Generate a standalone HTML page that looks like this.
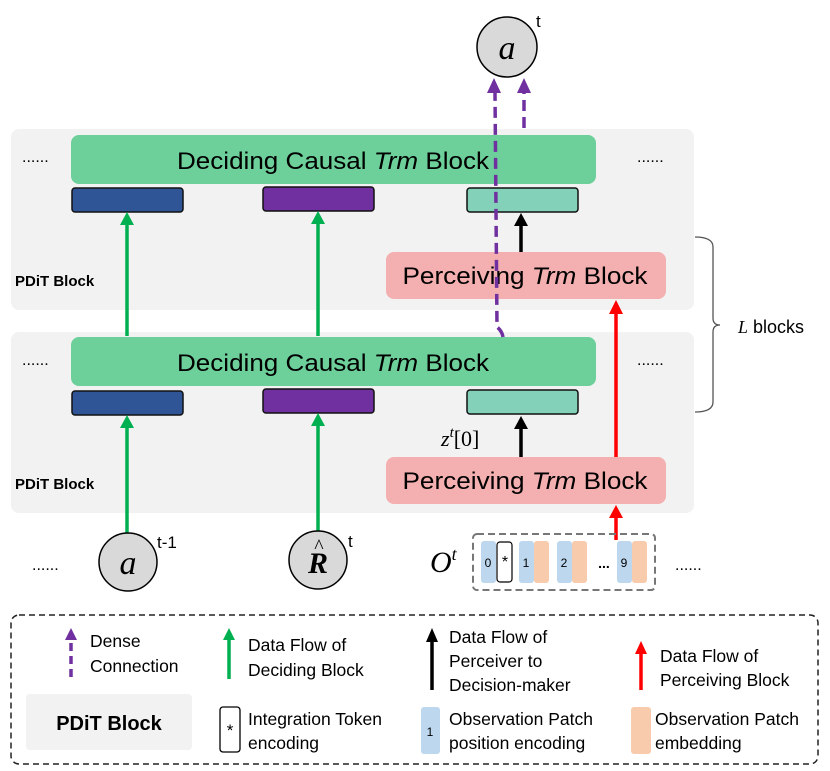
<!DOCTYPE html>
<html><head><style>
body{margin:0;background:#fff}
svg{display:block}
text{font-family:"Liberation Sans",sans-serif}
.s{font-family:"Liberation Serif",serif}
.lg{font-size:17.5px}
</style></head><body>
<svg width="830" height="771" viewBox="0 0 830 771" xmlns="http://www.w3.org/2000/svg">
<rect x="11" y="129" width="683" height="181" rx="8" fill="#f2f2f2"/>
<rect x="11" y="332" width="683" height="181" rx="8" fill="#f2f2f2"/>
<rect x="71" y="135" width="525" height="49" rx="8" fill="#6dcf9a"/>
<text x="333" y="169" font-size="24" text-anchor="middle" textLength="312" lengthAdjust="spacingAndGlyphs">Deciding Causal <tspan font-style="italic">Trm</tspan> Block</text>
<rect x="72" y="188" width="111" height="24" rx="3" fill="#2f5597" stroke="#111" stroke-width="1.5"/>
<rect x="263" y="187" width="111" height="24" rx="3" fill="#7030a0" stroke="#111" stroke-width="1.5"/>
<rect x="467" y="188" width="111" height="24" rx="3" fill="#84d1b9" stroke="#111" stroke-width="1.5"/>
<rect x="386" y="252" width="280" height="47" rx="8" fill="#f4b0b0"/>
<text x="525" y="284" font-size="24" text-anchor="middle" textLength="245" lengthAdjust="spacingAndGlyphs">Perceiving <tspan font-style="italic">Trm</tspan> Block</text>
<rect x="71" y="337" width="525" height="49" rx="8" fill="#6dcf9a"/>
<text x="333" y="371" font-size="24" text-anchor="middle" textLength="312" lengthAdjust="spacingAndGlyphs">Deciding Causal <tspan font-style="italic">Trm</tspan> Block</text>
<rect x="72" y="391" width="111" height="24" rx="3" fill="#2f5597" stroke="#111" stroke-width="1.5"/>
<rect x="263" y="389" width="111" height="24" rx="3" fill="#7030a0" stroke="#111" stroke-width="1.5"/>
<rect x="467" y="390" width="111" height="24" rx="3" fill="#84d1b9" stroke="#111" stroke-width="1.5"/>
<rect x="386" y="457" width="280" height="47" rx="8" fill="#f4b0b0"/>
<text x="525" y="489" font-size="24" text-anchor="middle" textLength="245" lengthAdjust="spacingAndGlyphs">Perceiving <tspan font-style="italic">Trm</tspan> Block</text>
<text x="22" y="162" font-size="16">......</text>
<text x="637" y="162" font-size="16">......</text>
<text x="22" y="365" font-size="16">......</text>
<text x="637" y="365" font-size="16">......</text>
<text x="32" y="570" font-size="16">......</text>
<text x="675" y="570" font-size="16">......</text>
<text x="15" y="286" font-size="15" font-weight="bold">PDiT Block</text>
<text x="15" y="489" font-size="15" font-weight="bold">PDiT Block</text>
<g stroke="#00b050" stroke-width="3.5">
<line x1="127" y1="336" x2="127" y2="222"/><line x1="318" y1="336" x2="318" y2="222"/>
<line x1="127" y1="533" x2="127" y2="424"/><line x1="318" y1="531" x2="318" y2="422"/>
</g>
<g fill="#00b050">
<path d="M120,225 L127,212 L134,225z"/><path d="M311,224 L318,211 L325,224z"/>
<path d="M120,428 L127,415 L134,428z"/><path d="M311,426 L318,413 L325,426z"/>
</g>
<line x1="521" y1="252" x2="521" y2="222" stroke="#000" stroke-width="3.5"/>
<path d="M514,226 L521,213 L528,226z" fill="#000"/>
<line x1="521" y1="457" x2="521" y2="425" stroke="#000" stroke-width="3.5"/>
<path d="M514,429 L521,416 L528,429z" fill="#000"/>
<line x1="616" y1="457" x2="616" y2="312" stroke="#ff0000" stroke-width="3.5"/>
<path d="M609,314 L616,300 L623,314z" fill="#ff0000"/>
<line x1="616" y1="540" x2="616" y2="516" stroke="#ff0000" stroke-width="3.5"/>
<path d="M609,518 L616,505 L623,518z" fill="#ff0000"/>
<path d="M503,337 Q502,331 497,327 L495,93" stroke="#7030a0" stroke-width="3.5" fill="none" stroke-dasharray="11,6"/>
<path d="M487,93 L494,78 L501,93z" fill="#7030a0"/>
<line x1="524" y1="128" x2="524" y2="93" stroke="#7030a0" stroke-width="3.5" stroke-dasharray="11,6"/>
<path d="M517,93 L524,78 L531,93z" fill="#7030a0"/>
<circle cx="507" cy="47" r="30" fill="#d9d9d9" stroke="#000" stroke-width="1.5"/>
<text x="507" y="59" font-size="34" font-style="italic" class="s" text-anchor="middle">a</text>
<text x="536" y="27" font-size="17">t</text>
<circle cx="128" cy="562" r="29" fill="#d9d9d9" stroke="#000" stroke-width="1.5"/>
<text x="128" y="574" font-size="34" font-style="italic" class="s" text-anchor="middle">a</text>
<text x="157" y="548" font-size="17">t-1</text>
<circle cx="318" cy="560" r="29" fill="#d9d9d9" stroke="#000" stroke-width="1.5"/>
<text x="318" y="573" font-size="30" font-style="italic" font-weight="bold" class="s" text-anchor="middle">R</text>
<text x="319" y="553" font-size="20" class="s" text-anchor="middle">^</text>
<text x="348" y="547" font-size="17">t</text>
<text x="441" y="446" font-size="22" class="s"><tspan font-style="italic">z</tspan><tspan font-size="15" dy="-9" font-style="italic">t</tspan><tspan dy="9">[0]</tspan></text>
<text x="430" y="572" font-size="30" font-style="italic" class="s">O<tspan font-size="18" dy="-12">t</tspan></text>
<rect x="473" y="534" width="182" height="56" rx="4" fill="none" stroke="#777" stroke-width="2" stroke-dasharray="7,4"/>
<g font-size="12" text-anchor="middle">
<rect x="481" y="541" width="15" height="42" rx="3" fill="#bdd7ee"/><text x="488" y="567">0</text>
<rect x="497" y="542" width="15" height="40" rx="3" fill="#fff" stroke="#000" stroke-width="1.2"/><text x="505" y="567" font-size="16">*</text>
<rect x="519" y="541" width="15" height="42" rx="3" fill="#bdd7ee"/><text x="526" y="567">1</text>
<rect x="534" y="541" width="15" height="42" rx="3" fill="#f8cbad"/>
<rect x="557" y="541" width="15" height="42" rx="3" fill="#bdd7ee"/><text x="564" y="567">2</text>
<rect x="572" y="541" width="15" height="42" rx="3" fill="#f8cbad"/>
<text x="604" y="568" font-size="14" font-weight="bold">...</text>
<rect x="617" y="541" width="15" height="42" rx="3" fill="#bdd7ee"/><text x="624" y="567">9</text>
<rect x="632" y="541" width="15" height="42" rx="3" fill="#f8cbad"/>
</g>
<path d="M695,237 Q713,237 713,247 L713,318 Q713,325 720,325 Q713,325 713,332 L713,402 Q713,412 695,412" fill="none" stroke="#555" stroke-width="1.3"/>
<text x="738" y="333" font-size="18"><tspan font-style="italic" class="s">L</tspan> blocks</text>
<rect x="11" y="615" width="807" height="149" rx="8" fill="none" stroke="#222" stroke-width="1.5" stroke-dasharray="6,4"/>
<line x1="71" y1="677" x2="71" y2="638" stroke="#7030a0" stroke-width="3.5" stroke-dasharray="8,5"/>
<path d="M65,640 L71,628 L77,640z" fill="#7030a0"/>
<text x="90" y="647" class="lg">Dense</text><text x="90" y="672" class="lg">Connection</text>
<line x1="229" y1="679" x2="229" y2="638" stroke="#00b050" stroke-width="3.5"/>
<path d="M223,640 L229,628 L235,640z" fill="#00b050"/>
<text x="248" y="651" class="lg">Data Flow of</text><text x="248" y="676" class="lg">Deciding Block</text>
<line x1="432" y1="690" x2="432" y2="640" stroke="#000" stroke-width="3.5"/>
<path d="M426,642 L432,628 L438,642z" fill="#000"/>
<text x="449" y="643" class="lg">Data Flow of</text><text x="449" y="667" class="lg">Perceiver to</text><text x="449" y="691" class="lg">Decision-maker</text>
<line x1="641" y1="690" x2="641" y2="652" stroke="#ff0000" stroke-width="3.5"/>
<path d="M635,654 L641,641 L647,654z" fill="#ff0000"/>
<text x="660" y="662" class="lg">Data Flow of</text><text x="660" y="686" class="lg">Perceiving Block</text>
<rect x="26" y="694" width="166" height="56" rx="4" fill="#f2f2f2"/>
<text x="109" y="730" font-size="20" font-weight="bold" text-anchor="middle">PDiT  Block</text>
<rect x="220" y="707" width="20" height="45" rx="3" fill="#fff" stroke="#000" stroke-width="1.3"/>
<text x="230" y="736" font-size="17" text-anchor="middle">*</text>
<text x="248" y="725" class="lg">Integration Token</text><text x="248" y="749" class="lg">encoding</text>
<rect x="421" y="707" width="19" height="47" rx="3" fill="#bdd7ee"/>
<text x="430" y="736" font-size="12" text-anchor="middle">1</text>
<text x="449" y="725" class="lg">Observation Patch</text><text x="449" y="749" class="lg">position encoding</text>
<rect x="631" y="707" width="20" height="47" rx="3" fill="#f8cbad"/>
<text x="655" y="725" class="lg">Observation Patch</text><text x="655" y="749" class="lg">embedding</text>
</svg>
</body></html>
